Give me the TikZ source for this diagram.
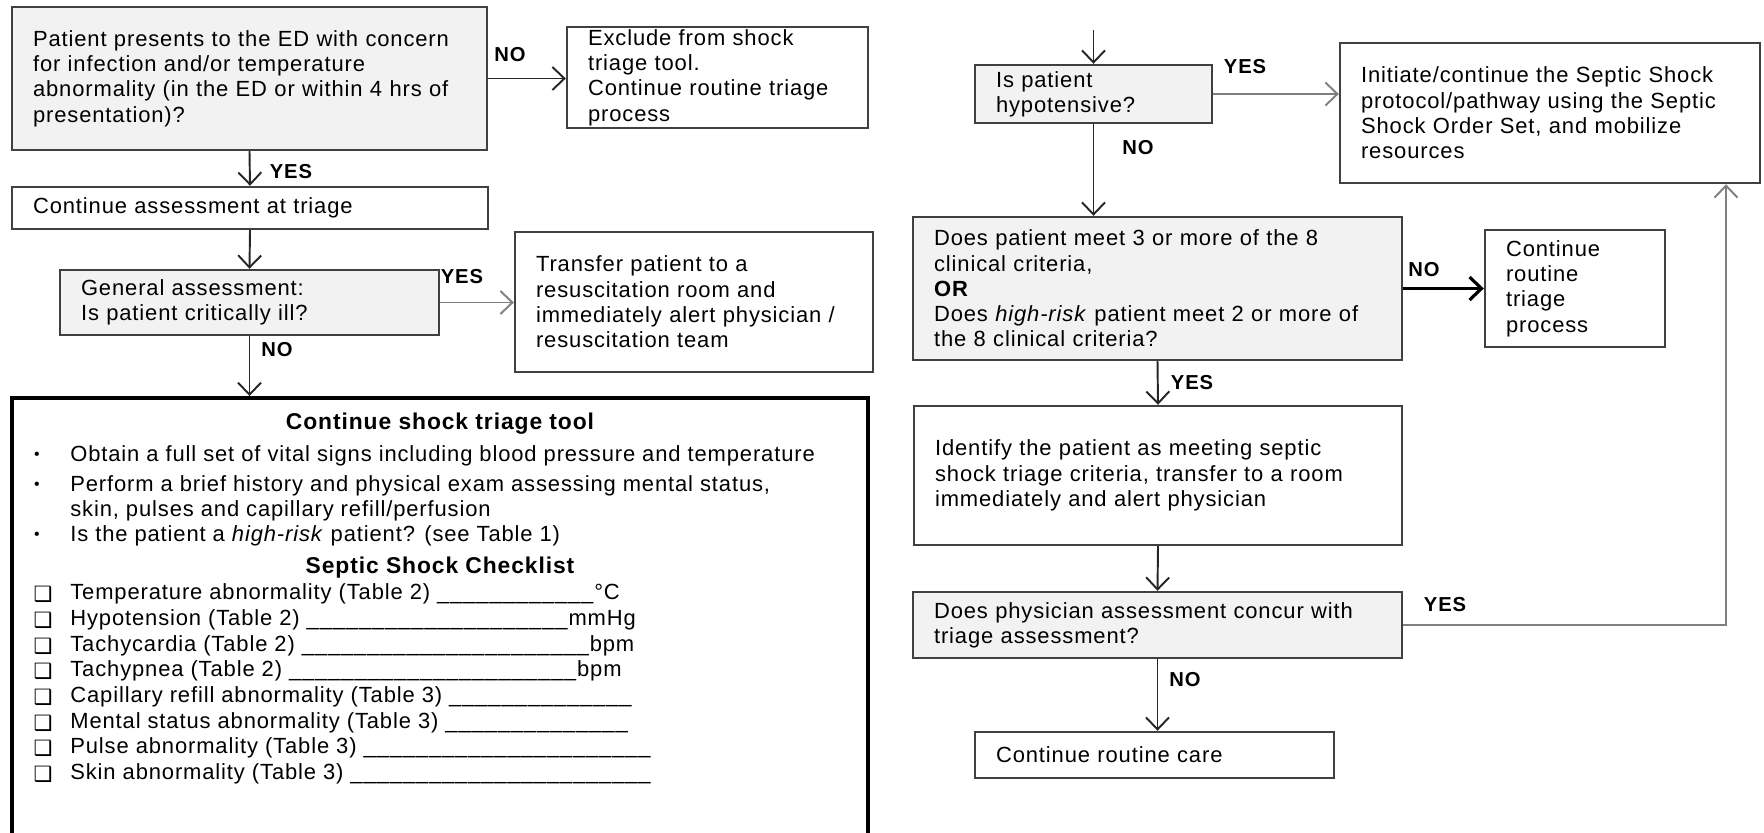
\documentclass[tikz,border=0pt]{standalone}
\usepackage{fontspec}
\setmainfont{Liberation Sans}[LetterSpace=4]
\newfontfamily\dingfont{DejaVu Sans}
\usetikzlibrary{arrows.meta}

\tikzset{
  box/.style 2 args={draw=black!75, line width=1.4pt, rectangle,
    inner xsep=0.42cm, inner ysep=0pt, minimum width=#1cm, minimum height=#2cm,
    text width={(#1-0.84)*1cm}, align=left, font=\fontsize{12.5}{14.4}\selectfont},
  ask/.style={fill=black!5},
  toolbox/.style={draw=black, line width=2.3pt, minimum width=17.12cm, minimum height=8.84cm},
  line/.style={anchor=west, inner sep=0pt, align=left, font=\fontsize{12.5}{14.2}\selectfont},
  head/.style={inner sep=0pt, font=\fontsize{13}{14}\selectfont\bfseries},
  dot/.style={inner sep=0pt, font=\fontsize{9}{10}\selectfont},
  tick/.style={inner sep=0pt, font=\dingfont\fontsize{12}{12}\selectfont\bfseries},
  tag/.style={inner sep=0pt, font=\fontsize{11.5}{12}\selectfont\bfseries},
  flow/.style={draw=black!85, line width=1.1pt, -{Straight Barb[length=2.4mm,width=4.6mm]}},
  yesflow/.style={flow, draw=black!50},
  noflow/.style={flow, draw=black, line width=1.8pt}
}

\begin{document}
\begin{tikzpicture}[x=0.02cm, y=-0.02cm]
\useasboundingbox (0,0) rectangle (1764,832);

% left column
\node[box={9.5}{2.86}, ask] (infect) at (249.5,78.5) {Patient presents to the ED with concern\\for infection and/or temperature\\abnormality (in the ED or within 4 hrs of\\presentation)?};
\node[box={6.02}{2.02}] (exclude) at (717.5,77.5) {Exclude from shock\\triage tool.\\Continue routine triage\\process};
\node[box={9.52}{0.84}] (assess) at (250,208) {Continue assessment at triage};
\node[box={7.58}{1.3}, ask] (critical) at (249.5,302.5) {General assessment:\\Is patient critically ill?};
\node[box={7.16}{2.8}] (resus) at (694,302) {Transfer patient to a\\resuscitation room and\\immediately alert physician /\\resuscitation team};
\node[toolbox] (tool) at (440,619) {};

% inside the triage tool
\node[head] (tooltitle) at (440,424) {Continue shock triage tool};
\node[dot] (dot1) at (37,456) {•};
\node[line] (vitals) at (70,456) {Obtain a full set of vital signs including blood pressure and temperature};
\node[dot] (dot2) at (37,486) {•};
\node[line] (exam) at (70,498.5) {Perform a brief history and physical exam assessing mental status,\\skin, pulses and capillary refill/perfusion};
\node[dot] (dot3) at (37,536) {•};
\node[line] (risk) at (70,536) {Is the patient a \textit{high-risk} patient? (see Table 1)};
\node[head] (listtitle) at (440,568) {Septic Shock Checklist};
\node[tick] (box1) at (43,594) {❑};
\node[line] (temp) at (70,594) {Temperature abnormality (Table 2) \_\_\_\_\_\_\_\_\_\_\_\_°C};
\node[tick] (box2) at (43,620) {❑};
\node[line] (hypoten) at (70,620) {Hypotension (Table 2) \_\_\_\_\_\_\_\_\_\_\_\_\_\_\_\_\_\_\_\_mmHg};
\node[tick] (box3) at (43,646) {❑};
\node[line] (tachyc) at (70,646) {Tachycardia (Table 2) \_\_\_\_\_\_\_\_\_\_\_\_\_\_\_\_\_\_\_\_\_\_bpm};
\node[tick] (box4) at (43,671) {❑};
\node[line] (tachyp) at (70,671) {Tachypnea (Table 2) \_\_\_\_\_\_\_\_\_\_\_\_\_\_\_\_\_\_\_\_\_\_bpm};
\node[tick] (box5) at (43,697) {❑};
\node[line] (capil) at (70,697) {Capillary refill abnormality (Table 3) \_\_\_\_\_\_\_\_\_\_\_\_\_\_};
\node[tick] (box6) at (43,723) {❑};
\node[line] (mental) at (70,723) {Mental status abnormality (Table 3) \_\_\_\_\_\_\_\_\_\_\_\_\_\_};
\node[tick] (box7) at (43,748) {❑};
\node[line] (pulse) at (70,748) {Pulse abnormality (Table 3) \_\_\_\_\_\_\_\_\_\_\_\_\_\_\_\_\_\_\_\_\_\_};
\node[tick] (box8) at (43,774) {❑};
\node[line] (skin) at (70,774) {Skin abnormality (Table 3) \_\_\_\_\_\_\_\_\_\_\_\_\_\_\_\_\_\_\_\_\_\_\_};

% right column
\coordinate (entry) at (1093.5,30);
\node[box={4.74}{1.16}, ask] (hypo) at (1093.5,94) {Is patient\\hypotensive?};
\node[box={8.4}{2.8}] (init) at (1550,113) {Initiate/continue the Septic Shock\\protocol/pathway using the Septic\\Shock Order Set, and mobilize\\resources};
\node[box={9.78}{2.86}, ask] (meet) at (1157.5,288.5) {Does patient meet 3 or more of the 8\\clinical criteria,\\\textbf{OR}\\Does \textit{high-risk} patient meet 2 or more of\\the 8 clinical criteria?};
\node[box={3.6}{2.34}] (routine) at (1575,288.5) {Continue\\routine\\triage\\process};
\node[box={9.76}{2.78}] (ident) at (1158,475.5) {Identify the patient as meeting septic\\shock triage criteria, transfer to a room\\immediately and alert physician};
\node[box={9.78}{1.32}, ask] (concur) at (1157.5,625) {Does physician assessment concur with\\triage assessment?};
\node[box={7.18}{0.92}] (care) at (1154.5,755) {Continue routine care};
\coordinate (loop) at (1726,625);

% answers
\node[tag] (no1) at (510,55) {NO};
\node[tag] (yes1) at (291,172) {YES};
\node[tag] (yes2) at (462,277) {YES};
\node[tag] (no2) at (277,350) {NO};
\node[tag] (yes3) at (1245,67) {YES};
\node[tag] (no3) at (1138,148) {NO};
\node[tag] (no4) at (1424,270) {NO};
\node[tag] (yes4) at (1192,383) {YES};
\node[tag] (yes5) at (1445,605) {YES};
\node[tag] (no5) at (1185,680) {NO};

% connectors
\draw[flow] (infect.east) -- (infect.east -| exclude.west);
\draw[flow] (infect.south) -- (assess.north);
\draw[flow] (assess.south) -- (critical.north);
\draw[yesflow] (critical.east) -- (critical.east -| resus.west);
\draw[flow] (critical.south) -- (critical.south |- tool.north);
\draw[flow] (entry) -- (hypo.north);
\draw[yesflow] (hypo.east) -- (hypo.east -| init.west);
\draw[flow] (hypo.south) -- (hypo.south |- meet.north);
\draw[noflow] (meet.east) -- (meet.east -| routine.west);
\draw[flow] (meet.south) -- (ident.north);
\draw[flow] (ident.south) -- (concur.north);
\draw[flow] (concur.south) -- (concur.south |- care.north);
\draw[yesflow] (concur.east) -- (loop) -- (loop |- init.south);
\end{tikzpicture}
\end{document}
